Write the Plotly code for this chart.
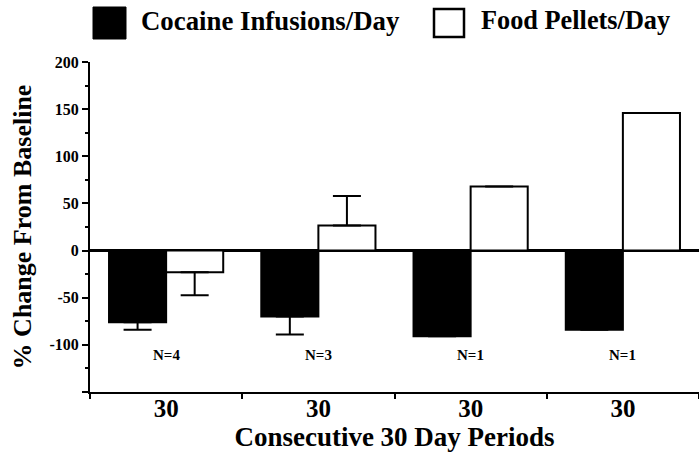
import plotly.graph_objects as go

# Data: % change from baseline per consecutive 30-day period
periods = ["Period 1", "Period 2", "Period 3", "Period 4"]
period_labels = ["30", "30", "30", "30"]
cocaine_pct = [-76, -70, -91, -84]
cocaine_sem = [8, 19, 0, 0]
food_pct = [-23, 26.5, 68, 146]
food_sem = [24.5, 31.5, 0, 0]
n_labels = ["N=4", "N=3", "N=1", "N=1"]
y_tick_vals = [-150, -100, -50, 0, 50, 100, 150, 200]
y_tick_text = ["", "-100", "-50", "0", "50", "100", "150", "200"]

FONT = "Liberation Serif"
W, H = 699, 457
ML, MR, MT, MB = 90, 0, 62, 65
PW, PH = W - ML - MR, H - MT - MB


def px_x(px):
    return (px - ML) / PW


def px_y(py):
    return (H - MB - py) / PH


def one_sided(values, errs):
    # error bars point away from zero, in the direction of the bar
    up = [e if v > 0 else 0 for v, e in zip(values, errs)]
    down = [e if v < 0 else 0 for v, e in zip(values, errs)]
    return up, down


c_up, c_down = one_sided(cocaine_pct, cocaine_sem)
f_up, f_down = one_sided(food_pct, food_sem)

err_style = dict(type="data", symmetric=False, color="black", thickness=2, width=14)


def bold_font(size):
    return dict(family=FONT, size=size, color="black", weight="bold")


fig = go.Figure()
fig.add_trace(go.Bar(
    x=periods, y=cocaine_pct, name="Cocaine Infusions/Day",
    marker=dict(color="black", line=dict(color="black", width=2)),
    error_y=dict(array=c_up, arrayminus=c_down, **err_style),
    showlegend=False,
))
fig.add_trace(go.Bar(
    x=periods, y=food_pct, name="Food Pellets/Day",
    marker=dict(color="white", line=dict(color="black", width=2)),
    error_y=dict(array=f_up, arrayminus=f_down, **err_style),
    showlegend=False,
))

# sample-size labels under each period
annotations = [
    dict(x=p, y=-111, xref="x", yref="y", text=n, showarrow=False, font=bold_font(15))
    for p, n in zip(periods, n_labels)
]

# legend drawn as large swatches with text
shapes = [
    dict(type="rect", xref="paper", yref="paper",
         x0=px_x(93), x1=px_x(126), y0=px_y(39), y1=px_y(7),
         fillcolor="black", line=dict(color="black", width=1)),
    dict(type="rect", xref="paper", yref="paper",
         x0=px_x(434), x1=px_x(464), y0=px_y(37), y1=px_y(9),
         fillcolor="white", line=dict(color="black", width=2.5)),
]
annotations += [
    dict(x=px_x(139), y=px_y(21), xref="paper", yref="paper", xanchor="left",
         yanchor="middle", text="Cocaine Infusions/Day", showarrow=False,
         font=bold_font(26.8)),
    dict(x=px_x(479), y=px_y(21), xref="paper", yref="paper", xanchor="left",
         yanchor="middle", text="Food Pellets/Day", showarrow=False,
         font=bold_font(26.3)),
]

fig.update_layout(
    width=W, height=H,
    margin=dict(l=ML, r=MR, t=MT, b=MB),
    paper_bgcolor="white", plot_bgcolor="white",
    barmode="group", bargap=0.25, bargroupgap=0,
    font=dict(family=FONT, color="black"),
    shapes=shapes, annotations=annotations,
    xaxis=dict(
        type="category", tickmode="array", tickvals=periods, ticktext=period_labels,
        tickson="boundaries", ticks="outside", ticklen=5, tickwidth=2, tickcolor="black",
        showline=True, linecolor="black", linewidth=2, showgrid=False,
        tickfont=bold_font(25), ticklabelstandoff=-7,
        title=dict(text="Consecutive 30 Day Periods", standoff=5, font=bold_font(27)),
        automargin=False,
    ),
    yaxis=dict(
        range=[-150, 200], tickmode="array", tickvals=y_tick_vals, ticktext=y_tick_text,
        ticks="outside", ticklen=6, tickwidth=2, tickcolor="black",
        minor=dict(dtick=25, tick0=0, ticks="outside", ticklen=3, tickwidth=2, tickcolor="black"),
        showline=True, linecolor="black", linewidth=2, showgrid=False,
        zeroline=True, zerolinecolor="black", zerolinewidth=2.5,
        tickfont=bold_font(16),
        title=dict(text="% Change From Baseline", standoff=10, font=bold_font(26)),
        automargin=False,
    ),
)

fig.write_html("out.html")
